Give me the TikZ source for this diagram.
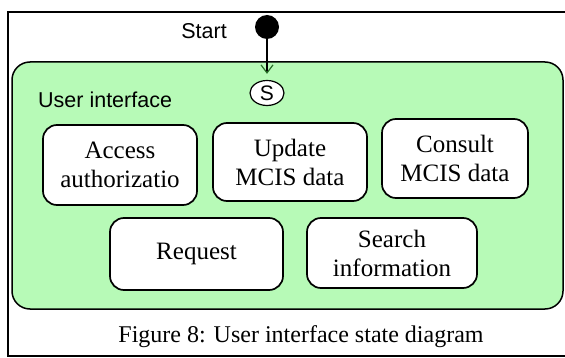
\documentclass[tikz,border=0pt]{standalone}
\usepackage{fontspec}
\setmainfont{Liberation Serif}
\newfontfamily\uisansfont{Liberation Sans}
\usetikzlibrary{shapes.geometric,arrows.meta}
\definecolor{uigreen}{RGB}{183,250,183}
\definecolor{tipgreen}{RGB}{40,110,40}
\begin{document}
\begin{tikzpicture}[x=1pt,y=-1pt,
		state/.style={draw, line width=1.7pt, rounded corners=14pt, fill=white, align=center, inner sep=0pt, font=\mystatefont},
		composite/.style={draw, line width=1.5pt, rounded corners=18pt, fill=uigreen, inner sep=0pt}
	]
		\newcommand{\mystatefont}{%
			\fontsize{25}{29}\selectfont%
		}\newcommand{\mylabelfont}[1]{%
			\uisansfont\fontsize{21.5}{24}\selectfont{#1}%
		}%Page
		\useasboundingbox (0,0) rectangle (565,358);
		%Outer frame (cut at the right side)
		\draw[line width=1.8pt] (580,12) -- (8,12) -- (8,356) -- (580,356);
		%Composite state
		\node [composite, minimum width=551pt, minimum height=247pt] (ui) at (287.5,185.5) {};
		\node [anchor=west, inner sep=0pt] (uilabel) at (38,100) {\mylabelfont{User interface}};
		%Initial pseudo state
		\node [circle, fill=black, minimum size=24pt, inner sep=0pt] (start) at (267,27) {};
		\node [anchor=east, inner sep=0pt] (startlabel) at (227,31) {\mylabelfont{Start}};
		\node [draw, ellipse, line width=1.2pt, fill=white, minimum width=34pt, minimum height=25pt, inner sep=0pt] (s) at (267,93) {\uisansfont\fontsize{21}{22}\selectfont S};
		\draw [line width=1.2pt, -{Straight Barb[length=8pt, width=12pt, color=tipgreen]}, shorten >=6pt] (start) -- (s);
		%States
		\node [state, minimum width=154pt, minimum height=80pt] (access) at (120,165) {Access\\authorizatio};
		\node [state, minimum width=154pt, minimum height=78pt] (update) at (290,162) {Update\\MCIS data};
		\node [state, minimum width=146pt, minimum height=79pt] (consult) at (455,158.5) {Consult\\MCIS data};
		\node [state, minimum width=173pt, minimum height=72pt] (request) at (196.5,254) {Request};
		\node [state, minimum width=170pt, minimum height=70pt] (search) at (392,253) {Search\\information};
		%Caption
		\node [inner sep=0pt, font=\fontsize{24}{28}\selectfont] (caption) at (301,337) {Figure 8: User interface state diagram};
		\end{tikzpicture}
\end{document}
